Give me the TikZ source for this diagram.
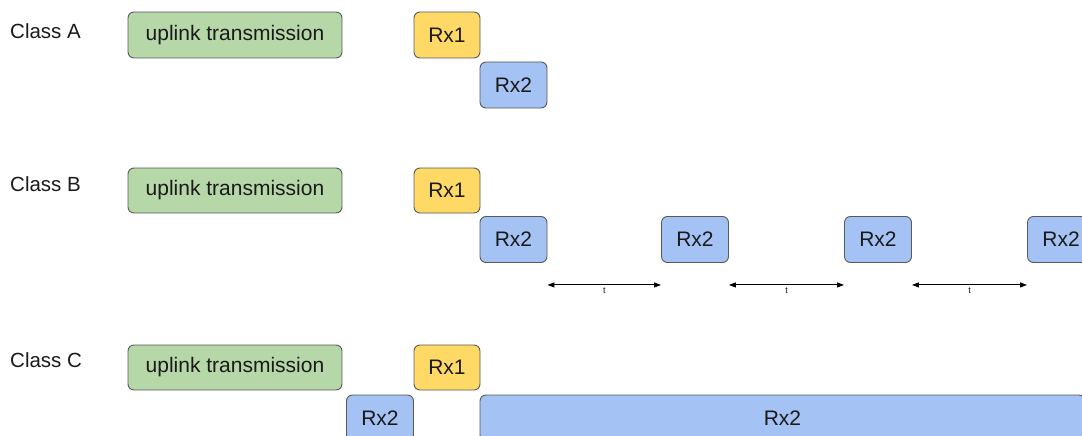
\documentclass[tikz,border=0pt]{standalone}
\usepackage{fontspec}
\setmainfont{Liberation Sans}
\usetikzlibrary{arrows.meta}
\definecolor{upgreen}{HTML}{B6D7A8}
\definecolor{rxyellow}{HTML}{FFD966}
\definecolor{rxblue}{HTML}{A4C2F4}
\definecolor{bord}{HTML}{595959}
\definecolor{txt}{HTML}{1A1A1A}
\tikzset{
  box/.style={draw=bord, line width=0.9pt, rounded corners=6pt, inner sep=0pt,
    minimum height=46pt, text=txt, font=\fontsize{21}{24}\selectfont},
  upbox/.style={box, fill=upgreen, minimum width=214pt},
  rxone/.style={box, fill=rxyellow, minimum width=66pt},
  rxtwo/.style={box, fill=rxblue, minimum width=67pt},
  classlbl/.style={anchor=west, inner sep=0pt, text=txt, font=\fontsize{20.5}{24}\selectfont},
  period/.style={line width=1pt, {Triangle[length=7pt,width=5pt]}-{Triangle[length=7pt,width=5pt]}},
  tlbl/.style={below, inner sep=2pt, text=txt, font=\fontsize{9}{10}\selectfont}
}
\begin{document}
\begin{tikzpicture}[x=1pt,y=-1pt]
\useasboundingbox (0,0) rectangle (1082,436);
\clip (0,0) rectangle (1082,436);
% Class A
\node[classlbl] (la) at (10,31) {Class A};
\node[upbox] (ua) at (235,35) {uplink transmission};
\node[rxone] (r1a) at (447,35) {Rx1};
\node[rxtwo] (r2a) at (513.5,85) {Rx2};
% Class B
\node[classlbl] (lb) at (10,184) {Class B};
\node[upbox, minimum height=45pt] (ub) at (235,190.5) {uplink transmission};
\node[rxone, minimum height=45pt] (r1b) at (447,190.5) {Rx1};
\node[rxtwo] (b1) at (513.5,239.5) {Rx2};
\node[rxtwo] (b2) at (695,239.5) {Rx2};
\node[rxtwo] (b3) at (878,239.5) {Rx2};
\node[rxtwo] (b4) at (1061,239.5) {Rx2};
\draw[period] ([yshift=-22pt]b1.south east) -- ([yshift=-22pt]b2.south west) node[midway,tlbl] (t1) {t};
\draw[period] ([yshift=-22pt]b2.south east) -- ([yshift=-22pt]b3.south west) node[midway,tlbl] (t2) {t};
\draw[period] ([yshift=-22pt]b3.south east) -- ([yshift=-22pt]b4.south west) node[midway,tlbl] (t3) {t};
% Class C
\node[classlbl] (lc) at (10,360) {Class C};
\node[upbox, minimum height=45pt] (uc) at (235,367.5) {uplink transmission};
\node[rxone, minimum height=45pt] (r1c) at (447,367.5) {Rx1};
\node[rxtwo] (c1) at (380,418) {Rx2};
\node[rxtwo, minimum width=605pt] (c2) at (782.5,418) {Rx2};
\end{tikzpicture}
\end{document}
